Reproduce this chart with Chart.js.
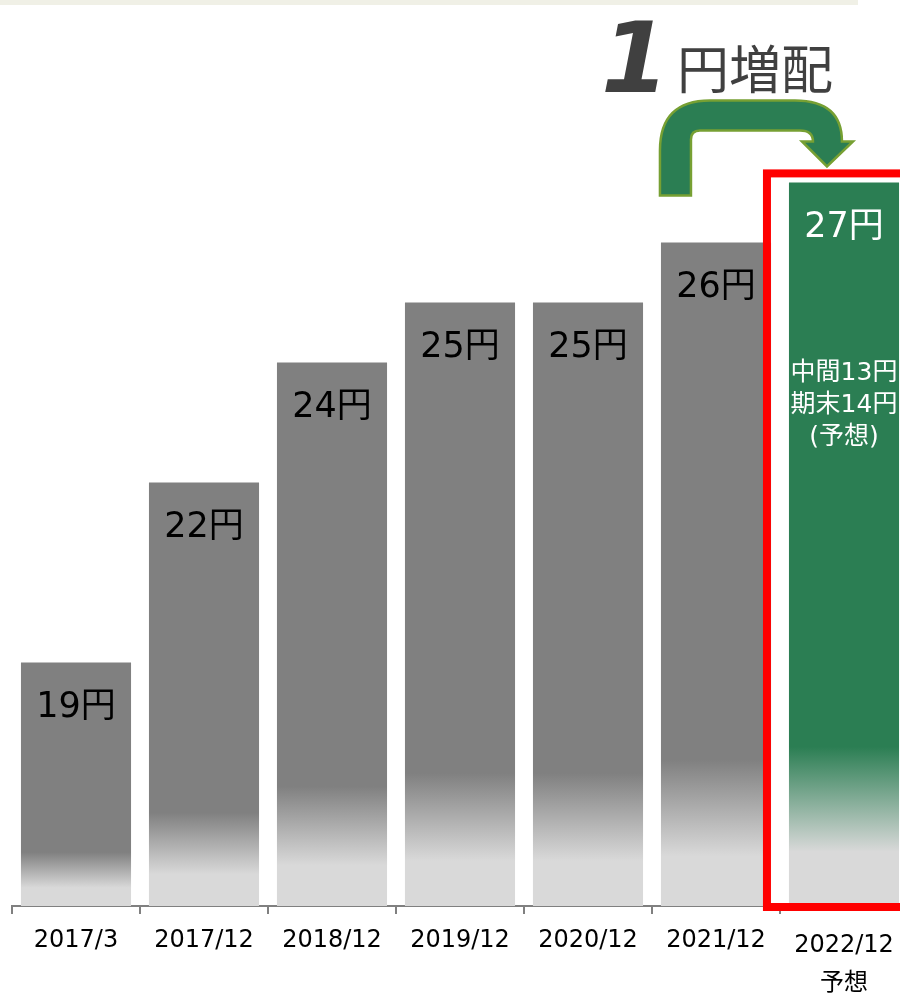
<!DOCTYPE html>
<html lang="ja">
<head>
<meta charset="utf-8">
<title>配当推移</title>
<script src="https://cdn.jsdelivr.net/npm/chart.js@4.4.1/dist/chart.umd.min.js"></script>
<style>
  html, body { margin: 0; padding: 0; background: #fff; overflow: hidden; }
  #wrap { position: relative; width: 912px; height: 995px; }
  #topline { position: absolute; left: 0; top: 0; width: 858px; height: 5px; background: #f0f0e6; z-index: 2; }
</style>
</head>
<body>
<div id="wrap">
  <div id="topline"></div>
  <canvas id="dividend-chart"></canvas>
</div>
<script>
// Dividend per share, by fiscal period
const periods = ['2017/3', '2017/12', '2018/12', '2019/12', '2020/12', '2021/12', ['2022/12', '予想']];
const dividends = [19, 22, 24, 25, 25, 26, 27];
const forecastBreakdown = ['中間13円', '期末14円', '(予想)'];
const increaseAmount = '1';
const increaseText = '円増配';

const colors = {
  gray: '#808080',
  light: '#d9d9d9',
  green: '#2b7e53',
  arrowEdge: '#77a033',
  red: '#ff0000',
  axis: '#808080',
  ink: '#000000',
  headline: '#404040'
};
const FONT = "'DejaVu Sans', 'Noto Sans CJK JP', sans-serif";
const forecastIndex = dividends.length - 1;

/**
 * Vertical fade to light gray near the bottom of each bar
 */
function barFill(ctx) {
  const chart = ctx.chart;
  const area = chart.chartArea;
  const base = ctx.dataIndex === forecastIndex ? colors.green : colors.gray;
  if (!area || ctx.raw === undefined) return base;
  const y = chart.scales.y;
  const top = y.getPixelForValue(ctx.raw);
  const bottom = y.getPixelForValue(y.min);
  const g = chart.ctx.createLinearGradient(0, top, 0, bottom);
  g.addColorStop(0, base);
  g.addColorStop(0.78, base);
  g.addColorStop(0.925, colors.light);
  g.addColorStop(1, colors.light);
  return g;
}

/**
 * Labels, forecast box and the increase arrow
 */
const annotations = {
  id: 'annotations',
  afterDatasetsDraw(chart) {
    const c = chart.ctx;
    const bars = chart.getDatasetMeta(0).data;
    c.save();

    // value labels
    c.textAlign = 'center';
    c.textBaseline = 'middle';
    c.font = '35px ' + FONT;
    bars.forEach((bar, i) => {
      c.fillStyle = i === forecastIndex ? '#ffffff' : colors.ink;
      c.fillText(dividends[i] + '円', bar.x, bar.y + 46);
    });

    // forecast breakdown
    const last = bars[forecastIndex];
    c.font = '25px ' + FONT;
    c.fillStyle = '#ffffff';
    forecastBreakdown.forEach((line, k) => {
      c.fillText(line, last.x, last.y + 191 + k * 32);
    });

    // red box round the forecast bar
    const lastLeft = last.x - last.width / 2;
    c.strokeStyle = colors.red;
    c.lineWidth = 8;
    c.strokeRect(lastLeft - 22, last.y - 9, last.width + 60, chart.chartArea.bottom + 1 - (last.y - 9));

    // bent arrow from previous bar to the forecast bar
    const prev = bars[forecastIndex - 1];
    const ox = prev.x - prev.width / 2;
    const oy = last.y;
    c.beginPath();
    c.moveTo(ox - 1, oy + 13);
    c.lineTo(ox - 1, oy - 32);
    c.quadraticCurveTo(ox - 1, oy - 82, ox + 49, oy - 82);
    c.lineTo(ox + 134, oy - 82);
    c.quadraticCurveTo(ox + 181, oy - 82, ox + 181, oy - 41);
    c.lineTo(ox + 192, oy - 41);
    c.lineTo(ox + 166, oy - 16);
    c.lineTo(ox + 141, oy - 41);
    c.lineTo(ox + 152, oy - 41);
    c.quadraticCurveTo(ox + 152, oy - 52, ox + 139, oy - 52);
    c.lineTo(ox + 39, oy - 52);
    c.quadraticCurveTo(ox + 30, oy - 52, ox + 30, oy - 43);
    c.lineTo(ox + 30, oy + 13);
    c.closePath();
    c.fillStyle = colors.green;
    c.fill();
    c.strokeStyle = colors.arrowEdge;
    c.lineWidth = 2.5;
    c.stroke();

    // headline
    c.textAlign = 'left';
    c.textBaseline = 'alphabetic';
    c.fillStyle = colors.headline;
    c.font = 'italic bold 98px ' + FONT;
    c.fillText(increaseAmount, ox - 60, oy - 90);
    c.font = '52px ' + FONT;
    c.fillText(increaseText, ox + 16, oy - 93);

    c.restore();
  }
};

document.addEventListener('DOMContentLoaded', function() {
  const ctx = document.getElementById('dividend-chart');
  new Chart(ctx, {
    type: 'bar',
    data: {
      labels: periods,
      datasets: [{
        label: '1株当たり配当金',
        data: dividends,
        backgroundColor: barFill,
        borderWidth: 0,
        categoryPercentage: 1,
        barPercentage: 0.86
      }]
    },
    options: {
      responsive: true,
      maintainAspectRatio: false,
      animation: false,
      devicePixelRatio: 1,
      layout: { padding: { left: 12, right: 4, top: 6, bottom: 0 } },
      plugins: {
        legend: { display: false },
        tooltip: { enabled: false }
      },
      scales: {
        y: {
          display: false,
          min: 14.94,
          max: 29.94
        },
        x: {
          afterFit: function(scale) { scale.height = 89; },
          grid: {
            offset: true,
            drawOnChartArea: false,
            drawTicks: true,
            tickLength: 8,
            color: colors.axis,
            lineWidth: 2
          },
          border: { display: true, color: colors.axis, width: 2 },
          ticks: {
            color: colors.ink,
            padding: 13,
            maxRotation: 0,
            autoSkip: false,
            font: function(context) {
              return {
                family: FONT,
                size: 24,
                lineHeight: context.index === forecastIndex ? 38 / 24 : 28 / 24
              };
            }
          }
        }
      }
    },
    plugins: [annotations]
  });
});
</script>
</body>
</html>
